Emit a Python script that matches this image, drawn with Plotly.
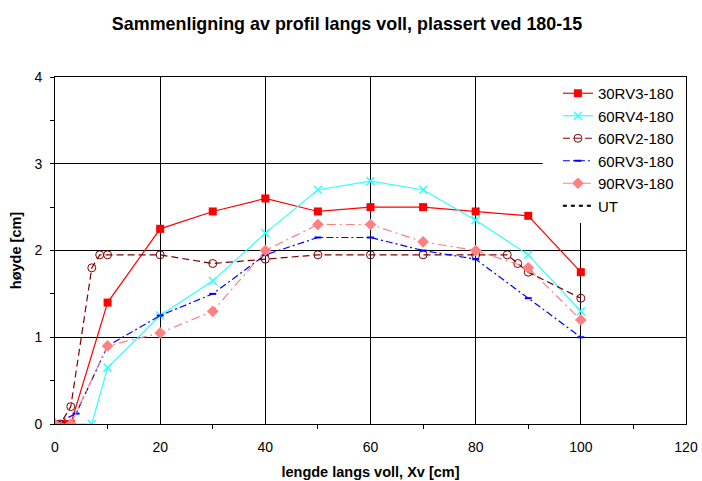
import plotly.graph_objects as go

# ---- data ----
x_30rv3 = [0, 2, 3, 10, 20, 30, 40, 50, 60, 70, 80, 90, 100]
y_30rv3 = [0, 0, 0, 1.4, 2.25, 2.45, 2.6, 2.45, 2.5, 2.5, 2.45, 2.4, 1.75]

x_60rv4 = [0, 7, 10, 20, 30, 40, 50, 60, 70, 80, 90, 100]
y_60rv4 = [0, 0, 0.65, 1.25, 1.65, 2.2, 2.7, 2.8, 2.7, 2.35, 1.95, 1.3]

x_60rv2 = [0, 1, 3, 7, 8.5, 10, 20, 30, 40, 50, 60, 70, 80, 86, 88, 90, 100]
y_60rv2 = [0, 0, 0.2, 1.8, 1.95, 1.95, 1.95, 1.85, 1.9, 1.95, 1.95, 1.95, 1.95, 1.95, 1.85, 1.75, 1.45]

x_60rv3 = [0, 4, 10, 20, 30, 40, 50, 60, 70, 80, 90, 100]
y_60rv3 = [0, 0.12, 0.9, 1.25, 1.5, 1.95, 2.15, 2.15, 2.0, 1.9, 1.45, 1.0]

x_90rv3 = [0, 3, 10, 20, 30, 40, 50, 60, 70, 80, 90, 100]
y_90rv3 = [0, 0, 0.9, 1.05, 1.3, 2.0, 2.3, 2.3, 2.1, 2.0, 1.8, 1.2]

x_ut = [None]
y_ut = [None]

title_text = "Sammenligning av profil langs voll, plassert ved 180-15"
x_title = "lengde langs voll, Xv [cm]"
y_title = "høyde [cm]"

FONT = "Liberation Sans, Arial, sans-serif"

W, H = 702, 481

fig = go.Figure()
fig.add_trace(go.Scatter(x=x_30rv3, y=y_30rv3, name="30RV3-180", mode="lines+markers",
                         line=dict(color="#FF0000", width=1.2),
                         marker=dict(symbol="square", size=8, color="#FF0000")))
fig.add_trace(go.Scatter(x=x_60rv4, y=y_60rv4, name="60RV4-180", mode="lines+markers",
                         line=dict(color="#33FFFF", width=1.2),
                         marker=dict(symbol="x-thin", size=8, color="#33FFFF",
                                     line=dict(color="#33FFFF", width=1.5))))
fig.add_trace(go.Scatter(x=x_60rv2, y=y_60rv2, name="60RV2-180", mode="lines+markers",
                         line=dict(color="#800000", width=1.2, dash="7px,4px"),
                         marker=dict(symbol="circle-open", size=8, color="#800000",
                                     line=dict(color="#800000", width=1))))
fig.add_trace(go.Scatter(x=x_60rv3, y=y_60rv3, name="60RV3-180", mode="lines+markers",
                         line=dict(color="#0000FF", width=1.2, dash="7px,3px,2px,3px"),
                         marker=dict(symbol="line-ew", size=5, color="#0000FF",
                                     line=dict(color="#0000FF", width=2))))
fig.add_trace(go.Scatter(x=x_90rv3, y=y_90rv3, name="90RV3-180", mode="lines+markers",
                         line=dict(color="#FF8080", width=1.2, dash="9px,4px,2px,4px"),
                         marker=dict(symbol="diamond", size=9, color="#FF8080")))
fig.add_trace(go.Scatter(x=x_ut, y=y_ut, name="UT", mode="lines",
                         line=dict(color="#000000", width=2, dash="4px,4px")))

# white area behind the legend (hides grid lines there, as in the reference)
fig.add_shape(type="rect", xref="paper", yref="paper", x0=0.773, x1=1, y0=0.579, y1=1,
              fillcolor="white", line=dict(width=0), layer="above")

fig.update_layout(
    width=W, height=H,
    margin=dict(l=55, r=16, t=77, b=57),
    paper_bgcolor="white", plot_bgcolor="white",
    font=dict(family=FONT, size=14, color="black"),
    title=dict(text="<b>" + title_text + "</b>", x=347 / W, xref="container", xanchor="center",
               y=1 - 24 / H, yref="container", yanchor="middle", font=dict(size=17.9, family=FONT)),
    showlegend=True,
    legend=dict(x=0.797, y=1, xanchor="left", yanchor="top", bgcolor="white",
                borderwidth=0, font=dict(size=15, family=FONT),
                tracegroupgap=0, itemwidth=30),
)
fig.update_xaxes(range=[0, 120], dtick=20, tick0=0, showgrid=True, gridcolor="black", gridwidth=1,
                 showline=True, linecolor="black", linewidth=1, mirror=True,
                 ticks="", zeroline=False, automargin=False, ticklabelstandoff=10,
                 minor=dict(dtick=10, ticks="outside", ticklen=4, tickcolor="black", showgrid=False),
                 title=dict(text="<b>" + x_title + "</b>", font=dict(size=14.5), standoff=13),
                 tickfont=dict(size=14))
fig.update_yaxes(range=[0, 4], dtick=1, tick0=0, showgrid=True, gridcolor="black", gridwidth=1,
                 showline=True, linecolor="black", linewidth=1, mirror=True,
                 ticks="outside", ticklen=4, tickcolor="black", zeroline=False,
                 automargin=False, ticklabelstandoff=5,
                 minor=dict(dtick=0.5, ticks="outside", ticklen=4, tickcolor="black", showgrid=False),
                 title=dict(text="<b>" + y_title + "</b>", font=dict(size=14.5), standoff=9),
                 tickfont=dict(size=14))

fig.write_html("out.html", config={"displayModeBar": False},
               post_script="document.body.style.margin='0';document.body.style.overflow='hidden';")
